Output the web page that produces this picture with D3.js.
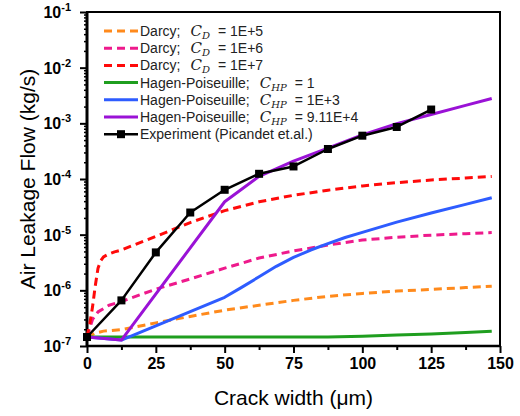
<!DOCTYPE html>
<html>
<head>
<meta charset="utf-8">
<script src="https://cdn.jsdelivr.net/npm/d3@7"></script>
<style>
  body { margin: 0; background: #fff; }
  svg { display: block; font-family: Arial, "Liberation Sans", sans-serif; }
</style>
</head>
<body>
<svg id="chart" width="520" height="416"></svg>
<script>
// ---------------------------------------------------------------------------
// Data
// ---------------------------------------------------------------------------

const darcy5X = [0, 3, 6, 12.5, 25, 37.5, 50, 62.5, 75, 87.5, 100, 112.5, 125, 137.5, 147];
const darcy5Y = [1.45e-7, 1.7e-7, 1.85e-7, 1.97e-7, 2.6e-7, 3.4e-7, 4.4e-7, 5.4e-7, 6.6e-7, 7.8e-7, 8.8e-7, 9.7e-7, 1.04e-6, 1.12e-6, 1.19e-6];

const darcy6X = [0, 2, 4, 8, 12.5, 25, 37.5, 50, 62.5, 75, 87.5, 100, 112.5, 125, 137.5, 147];
const darcy6Y = [1.45e-7, 3.0e-7, 4.1e-7, 5.4e-7, 6.3e-7, 1.05e-6, 1.6e-6, 2.5e-6, 3.8e-6, 5.1e-6, 6.5e-6, 8.0e-6, 9.0e-6, 9.8e-6, 1.04e-5, 1.09e-5];

const darcy7X = [0, 1, 2, 3, 4, 5, 6, 8, 10, 12.5, 25, 37.5, 50, 62.5, 75, 87.5, 100, 112.5, 125, 137.5, 147];
const darcy7Y = [1.45e-7, 2.5e-7, 5e-7, 1.2e-6, 2.5e-6, 3.4e-6, 4.0e-6, 4.5e-6, 4.9e-6, 5.3e-6, 9.3e-6, 1.65e-5, 2.7e-5, 3.9e-5, 5.1e-5, 6.3e-5, 7.5e-5, 8.6e-5, 9.6e-5, 1.04e-4, 1.11e-4];

const hp1X = [0, 12.5, 87.5, 100, 112.5, 125, 137.5, 147];
const hp1Y = [1.45e-7, 1.45e-7, 1.45e-7, 1.5e-7, 1.57e-7, 1.64e-7, 1.74e-7, 1.84e-7];

const hp3X = [0, 12.5, 50, 56, 62.5, 68.75, 75, 81.25, 87.5, 93.75, 100, 112.5, 125, 137.5, 147];
const hp3Y = [1.45e-7, 1.28e-7, 7.5e-7, 1.12e-6, 1.75e-6, 2.7e-6, 3.9e-6, 5.3e-6, 6.9e-6, 8.9e-6, 1.1e-5, 1.68e-5, 2.45e-5, 3.5e-5, 4.6e-5];

const hp4X = [0, 12.5, 50, 62.5, 75, 87.5, 100, 112.5, 125, 137.5, 147];
const hp4Y = [1.45e-7, 1.28e-7, 3.9e-5, 1.12e-4, 2.1e-4, 3.6e-4, 6.2e-4, 9.9e-4, 1.44e-3, 2.1e-3, 2.8e-3];

const expX = [0, 12.5, 25, 37.5, 50, 62.5, 75, 87.5, 100, 112.5, 125];
const expY = [1.45e-7, 6.6e-7, 4.8e-6, 2.5e-5, 6.4e-5, 1.24e-4, 1.68e-4, 3.46e-4, 6.0e-4, 8.6e-4, 1.77e-3];

const legendNames = ["Darcy;", "Darcy;", "Darcy;", "Hagen-Poiseuille;", "Hagen-Poiseuille;", "Hagen-Poiseuille;", "Experiment (Picandet et.al.)"];
const legendSubs = ["D", "D", "D", "HP", "HP", "HP", null];
const legendValues = ["1E+5", "1E+6", "1E+7", "1", "1E+3", "9.11E+4", null];

const xTicks = [0, 25, 50, 75, 100, 125, 150];
const yTickExps = [-7, -6, -5, -4, -3, -2, -1];

// ---------------------------------------------------------------------------
// Layout
// ---------------------------------------------------------------------------

const margin = { top: 12, right: 20, bottom: 70, left: 87 };
const W = 520, H = 416;
const w = W - margin.left - margin.right;
const h = H - margin.top - margin.bottom;

const svg = d3.select('#chart');
const g = svg.append('g').attr('transform', `translate(${margin.left},${margin.top})`);

const x = d3.scaleLinear().domain([0, 150]).range([0, w]);
const y = d3.scaleLog().domain([1e-7, 1e-1]).range([h, 0]);

const series = [
  { xs: darcy5X, ys: darcy5Y, color: '#ff8a1c', dash: '8,5', width: 3 },
  { xs: darcy6X, ys: darcy6Y, color: '#ee1a8c', dash: '8,5', width: 3 },
  { xs: darcy7X, ys: darcy7Y, color: '#ff0a0a', dash: '8,5', width: 3 },
  { xs: hp1X, ys: hp1Y, color: '#1f9e1f', dash: null, width: 3 },
  { xs: hp3X, ys: hp3Y, color: '#2e5cff', dash: null, width: 3 },
  { xs: hp4X, ys: hp4Y, color: '#9a12d6', dash: null, width: 3 },
  { xs: expX, ys: expY, color: '#000', dash: null, width: 2.5, marker: true },
];

// ---------------------------------------------------------------------------
// Axes
// ---------------------------------------------------------------------------

// minor ticks
const xMinor = d3.range(12.5, 150, 25);
g.append('g').attr('transform', `translate(0,${h})`)
  .call(d3.axisBottom(x).tickValues(xMinor).tickSize(4).tickFormat(''))
  .call(s => { s.select('.domain').remove(); s.selectAll('line').attr('stroke-width', 2); });

const yMinor = [];
for (let e = -7; e < -1; e++) for (let m = 2; m <= 9; m++) yMinor.push(m * Math.pow(10, e));
g.append('g')
  .call(d3.axisLeft(y).tickValues(yMinor).tickSize(3).tickFormat(''))
  .call(s => { s.select('.domain').remove(); s.selectAll('line').attr('stroke-width', 1.5); });

// major ticks
const xAx = g.append('g').attr('transform', `translate(0,${h})`)
  .call(d3.axisBottom(x).tickValues(xTicks).tickSize(7).tickPadding(5).tickFormat(d3.format('d')));
xAx.select('.domain').remove();
xAx.selectAll('line').attr('stroke-width', 2);
xAx.selectAll('text').attr('font-size', 16).attr('font-weight', 'bold')
  .attr('font-family', 'Arial, "Liberation Sans", sans-serif').attr('fill', '#000');

const yAx = g.append('g')
  .call(d3.axisLeft(y).tickValues(yTickExps.map(e => Math.pow(10, e))).tickSize(7).tickFormat(''));
yAx.select('.domain').remove();
yAx.selectAll('line').attr('stroke-width', 2);

yTickExps.forEach(e => {
  const t = g.append('text')
    .attr('x', -16).attr('y', y(Math.pow(10, e)) + 6)
    .attr('text-anchor', 'end')
    .attr('font-size', 16).attr('font-weight', 'bold');
  t.append('tspan').text('10');
  t.append('tspan').attr('dy', -7).attr('font-size', 11).text(String(e));
});

// frame
g.append('rect').attr('x', 0).attr('y', 0).attr('width', w).attr('height', h)
  .attr('fill', 'none').attr('stroke', '#000').attr('stroke-width', 2);
g.append('line').attr('x1', 0).attr('x2', 0).attr('y1', 0).attr('y2', h)
  .attr('stroke', '#000').attr('stroke-width', 3);
g.append('line').attr('x1', 0).attr('x2', w).attr('y1', h).attr('y2', h)
  .attr('stroke', '#000').attr('stroke-width', 2.5);

// axis titles
svg.append('text')
  .attr('x', margin.left + w / 2).attr('y', 405)
  .attr('text-anchor', 'middle').attr('font-size', 21)
  .text('Crack width (\u03bcm)');
svg.append('text')
  .attr('transform', 'rotate(-90)')
  .attr('x', -(margin.top + h / 2)).attr('y', 35)
  .attr('text-anchor', 'middle').attr('font-size', 21)
  .text('Air Leakage Flow (kg/s)');

// ---------------------------------------------------------------------------
// Series
// ---------------------------------------------------------------------------

const line = d3.line().x(d => x(d[0])).y(d => y(d[1]));

series.forEach(s => {
  const pts = s.xs.map((v, i) => [v, s.ys[i]]);
  g.append('path').datum(pts)
    .attr('d', line)
    .attr('fill', 'none')
    .attr('stroke', s.color)
    .attr('stroke-width', s.width)
    .attr('stroke-dasharray', s.dash)
    .attr('stroke-linejoin', 'round');
  if (s.marker) {
    g.selectAll(null).data(pts).enter().append('rect')
      .attr('x', d => x(d[0]) - 4).attr('y', d => y(d[1]) - 4)
      .attr('width', 8).attr('height', 8).attr('fill', '#000');
  }
});

// ---------------------------------------------------------------------------
// Legend
// ---------------------------------------------------------------------------

const leg = svg.append('g').attr('transform', 'translate(104,31)');
series.forEach((s, i) => {
  const row = leg.append('g').attr('transform', `translate(0,${i * 17.2})`);
  row.append('line').attr('x1', 0).attr('x2', 34).attr('y1', 0).attr('y2', 0)
    .attr('stroke', s.color).attr('stroke-width', s.width)
    .attr('stroke-dasharray', s.dash);
  if (s.marker) {
    row.append('rect').attr('x', 13).attr('y', -4).attr('width', 8).attr('height', 8).attr('fill', '#000');
  }
  const t = row.append('text').attr('x', 36).attr('y', 5).attr('font-size', 14).attr('fill', '#222');
  t.append('tspan').text(legendNames[i]);
  if (legendSubs[i]) {
    t.append('tspan').attr('dx', 10)
      .attr('font-family', '"DejaVu Serif", "Liberation Serif", serif')
      .attr('font-style', 'italic').attr('font-size', 15).text('C');
    t.append('tspan').attr('dy', 3)
      .attr('font-family', '"DejaVu Serif", "Liberation Serif", serif')
      .attr('font-style', 'italic').attr('font-size', 10).text(legendSubs[i]);
    t.append('tspan').attr('dy', -3).attr('dx', 8).text('= ' + legendValues[i]);
  }
});
</script>
</body>
</html>
